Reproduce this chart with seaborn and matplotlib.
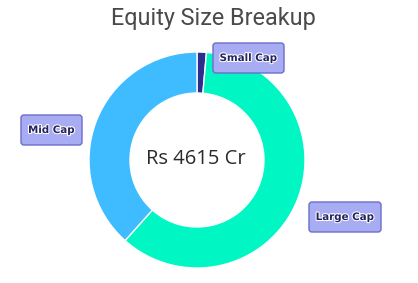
import matplotlib
matplotlib.use("Agg")
import matplotlib.pyplot as plt
import matplotlib.patheffects as pe
from matplotlib.patches import FancyBboxPatch
import seaborn as sns

categories = ["Small Cap", "Large Cap", "Mid Cap"]
values = [1.4, 60.2, 38.4]
colors = ["#2b2e8f", "#00f7c3", "#3fbcff"]
title = "Equity Size Breakup"
center_label = "Rs 4615 Cr"

sns.set_theme(style="white")
plt.rcParams['font.family'] = ['DejaVu Sans']

W, H = 418, 283
fig = plt.figure(figsize=(W / 100, H / 100), dpi=100)
ax = fig.add_axes([0, 0, 1, 1])

cx, cy = 197, H - 160
R = 108
wedges, _ = ax.pie(values, colors=colors, startangle=90, counterclock=False,
                   center=(cx, cy), radius=R, frame=True,
                   wedgeprops=dict(width=R - 67, edgecolor="white", linewidth=1))
ax.set_xlim(0, W)
ax.set_ylim(0, H)
ax.set_aspect('equal')
ax.axis('off')

ax.text(213, H - 19, title, ha="center", va="center", fontsize=16.8,
        family="Roboto", color="#4a4a4a")
ax.text(196, H - 159, center_label, ha="center", va="center", fontsize=14.5,
        family="Open Sans", color="#2a2a2a")

# label boxes: (left, top, width, height) in pixels
label_box = {"Small Cap": (213, 43, 71, 30), "Large Cap": (309, 202, 72, 30),
             "Mid Cap": (21, 115, 61, 30)}
for cat in categories:
    x0, y0, w, h = label_box[cat]
    box = FancyBboxPatch((x0 + 3, H - y0 - h + 3), w - 6, h - 6,
                         boxstyle="round,pad=3,rounding_size=3",
                         facecolor="#a8acf3", edgecolor="#6a6dcc",
                         linewidth=1, zorder=5)
    ax.add_patch(box)
    t = ax.text(x0 + w / 2, H - y0 - h / 2, cat, ha="center", va="center",
                fontsize=7.4, fontweight="bold", color="#23235e", zorder=6)
    t.set_path_effects([pe.withStroke(linewidth=1.5, foreground="white")])

fig.savefig("out.png", dpi=100)
